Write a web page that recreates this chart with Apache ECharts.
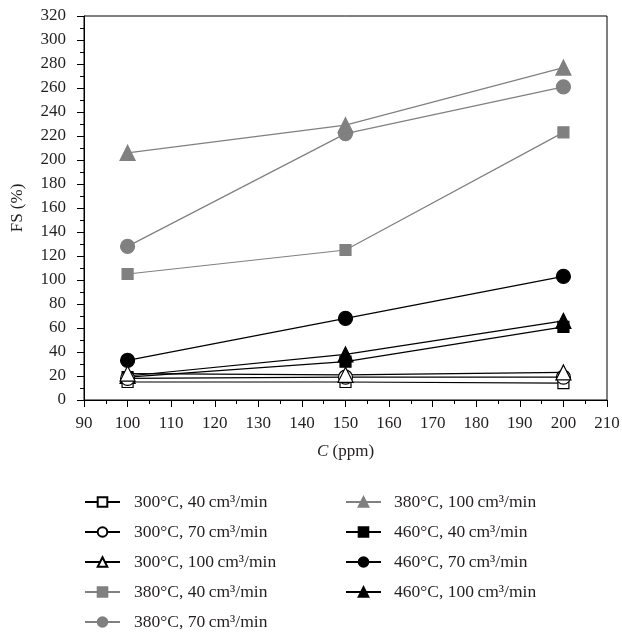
<!DOCTYPE html>
<html><head><meta charset="utf-8">
<script src="https://cdn.jsdelivr.net/npm/echarts@6/dist/echarts.min.js"></script>
<style>html,body{margin:0;padding:0;background:#fff}#c{width:622px;height:635px}</style>
</head><body><div id="c"></div>
<script>
const xValues = [100, 150, 200];
const names = [
  '300°C, 40\u2009cm³/min', '300°C, 70\u2009cm³/min', '300°C, 100\u2009cm³/min',
  '380°C, 40\u2009cm³/min', '380°C, 70\u2009cm³/min',
  '380°C, 100\u2009cm³/min', '460°C, 40\u2009cm³/min', '460°C, 70\u2009cm³/min', '460°C, 100\u2009cm³/min'
];
const s300_40 = [15, 15, 14];
const s300_70 = [18, 19, 19];
const s300_100 = [22, 21, 23];
const s380_40 = [105, 125, 223];
const s380_70 = [128, 222, 261];
const s380_100 = [206, 229, 277];
const s460_40 = [19, 32, 61];
const s460_70 = [33, 68, 103];
const s460_100 = [20, 38, 66];
const yTicks = [0, 20, 40, 60, 80, 100, 120, 140, 160, 180, 200, 220, 240, 260, 280, 300, 320];
const xTicks = [90, 100, 110, 120, 130, 140, 150, 160, 170, 180, 190, 200, 210];

const GRAY = '#808080';
const INK = '#231f20';
const styles = [
  {sym: 'rect', fill: '#fff', stroke: '#000', line: '#000'},
  {sym: 'circle', fill: '#fff', stroke: '#000', line: '#000'},
  {sym: 'triangle', fill: '#fff', stroke: '#000', line: '#000'},
  {sym: 'rect', fill: GRAY, stroke: GRAY, line: GRAY},
  {sym: 'circle', fill: GRAY, stroke: GRAY, line: GRAY},
  {sym: 'triangle', fill: GRAY, stroke: GRAY, line: GRAY},
  {sym: 'rect', fill: '#000', stroke: '#000', line: '#000'},
  {sym: 'circle', fill: '#000', stroke: '#000', line: '#000'},
  {sym: 'triangle', fill: '#000', stroke: '#000', line: '#000'}
];
const values = [s300_40, s300_70, s300_100, s380_40, s380_70, s380_100, s460_40, s460_70, s460_100];
const series = values.map((v, i) => ({
  name: names[i],
  type: 'line',
  data: xValues.map((x, k) => [x, v[k]]),
  symbol: styles[i].sym,
  symbolSize: styles[i].sym === 'rect' ? 11 : (styles[i].sym === 'triangle' ? 15 : 14),
  showAllSymbol: true,
  lineStyle: {color: styles[i].line, width: 1.2},
  itemStyle: {color: styles[i].fill, borderColor: styles[i].stroke, borderWidth: 1.2, opacity: 1},
  z: styles[i].fill === '#fff' ? 4 : 3,
  animation: false
}));
const FONT = 'Liberation Serif';
const chart = echarts.init(document.getElementById('c'), null, {renderer: 'canvas'});
function legendCfg(data, left, padLeft) {
  return {
    data: data, left: left, top: 488, height: 150,
    orient: 'vertical', itemWidth: 35, itemHeight: 12, itemGap: 12,
    textStyle: {fontFamily: FONT, fontSize: 17.5, color: INK, lineHeight: 18, padding: [0, 0, 0, padLeft]}
  };
}
chart.setOption({
  animation: false,
  backgroundColor: '#fff',
  grid: {left: 84, right: 15, top: 16, bottom: 235, containLabel: false, outerBoundsMode: 'none',
         show: true, borderColor: '#000', borderWidth: 1, backgroundColor: 'transparent'},
  xAxis: {
    type: 'value', min: xTicks[0], max: xTicks[xTicks.length - 1], interval: 10,
    name: '{i|C} (ppm)', nameLocation: 'middle', nameGap: 43,
    nameTextStyle: {fontFamily: FONT, fontSize: 17, color: INK, rich: {i: {fontStyle: 'italic', fontFamily: FONT, fontSize: 17, color: INK}}},
    axisLine: {lineStyle: {color: '#000', width: 1}},
    axisTick: {show: true, length: 7, lineStyle: {color: '#000'}},
    minorTick: {show: true, splitNumber: 2, length: 4, lineStyle: {color: '#000'}},
    splitLine: {show: false},
    axisLabel: {fontFamily: FONT, fontSize: 17, color: INK, margin: 15}
  },
  yAxis: {
    type: 'value', min: yTicks[0], max: yTicks[yTicks.length - 1], interval: 20,
    name: 'FS (%)', nameLocation: 'middle', nameGap: 58,
    nameTextStyle: {fontFamily: FONT, fontSize: 17, color: INK},
    axisLine: {show: true, lineStyle: {color: '#000', width: 1}},
    axisTick: {show: true, length: 7, lineStyle: {color: '#000'}},
    minorTick: {show: true, splitNumber: 2, length: 4, lineStyle: {color: '#000'}},
    splitLine: {show: false},
    axisLabel: {fontFamily: FONT, fontSize: 17, color: INK, margin: 18}
  },
  legend: [
    legendCfg(names.slice(0, 5), 79, 9),
    legendCfg(names.slice(5), 340, 8)
  ],
  series: series
});
</script></body></html>
